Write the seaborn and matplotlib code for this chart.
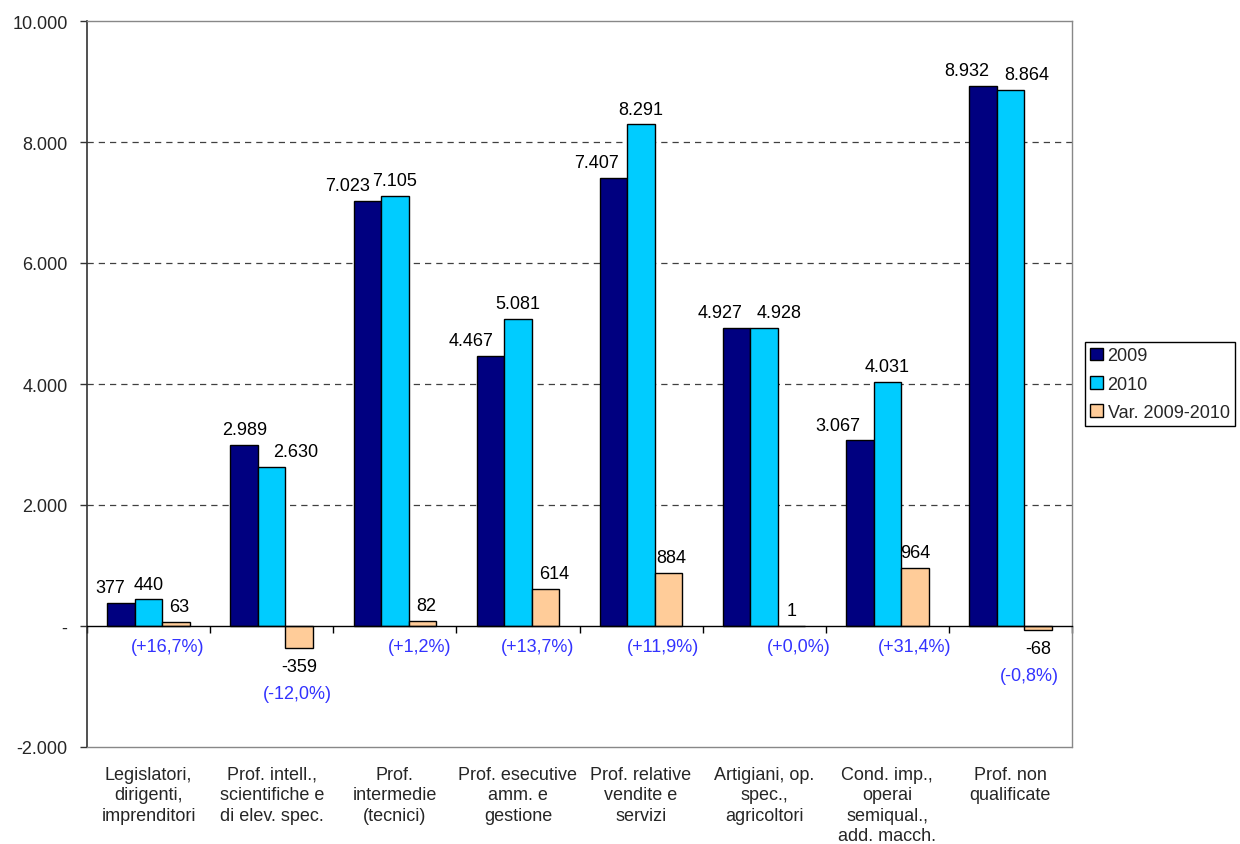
import matplotlib
matplotlib.use("Agg")
import matplotlib.pyplot as plt
import seaborn as sns
import pandas as pd
import numpy as np
from matplotlib.ticker import FuncFormatter
from matplotlib.patches import Patch
import matplotlib.transforms as mtransforms

# --- data -------------------------------------------------------------
categorie = [
    "Legislatori,\ndirigenti,\nimprenditori",
    "Prof. intell.,\nscientifiche e\ndi elev. spec.",
    "Prof.\nintermedie\n(tecnici)",
    "Prof. esecutive\namm. e\ngestione",
    "Prof. relative\nvendite e\nservizi",
    "Artigiani, op.\nspec.,\nagricoltori",
    "Cond. imp.,\noperai\nsemiqual.,\nadd. macch.",
    "Prof. non\nqualificate",
]
val_2009 = [377, 2989, 7023, 4467, 7407, 4927, 3067, 8932]
val_2010 = [440, 2630, 7105, 5081, 8291, 4928, 4031, 8864]
var_09_10 = [63, -359, 82, 614, 884, 1, 964, -68]
serie = ["2009", "2010", "Var. 2009-2010"]
y_ticks = [-2000, 0, 2000, 4000, 6000, 8000, 10000]

colori = ["#000080", "#00CCFF", "#FFCC99"]

# horizontal nudges (points) for the value labels, per series
nudge = [
    [-8, 0, -14, -14, -12, -12, -16, -12],
    [0, 17, 0, 0, 0, 11, 0, 12],
    [2, 0, 3, 6, 2, 0, 0, 0],
]
nudge_pct = [-6, -1, -2, -6, -4, 5, 0, -6]

df = pd.DataFrame({
    "categoria": np.tile(categorie, 3),
    "serie": np.repeat(serie, len(categorie)),
    "valore": val_2009 + val_2010 + var_09_10,
})

# --- style ------------------------------------------------------------
sns.set_style("white")
plt.rcParams["font.family"] = ["Liberation Sans", "DejaVu Sans"]
FS = 13


def fmt_num(v):
    if v == 0:
        return "-"
    return f"{v:,.0f}".replace(",", ".")


fig = plt.figure(figsize=(12.4, 8.45), dpi=100)
ax = fig.add_axes([87 / 1240, 97 / 845, 985 / 1240, 726 / 845])

sns.barplot(
    data=df, x="categoria", y="valore", hue="serie",
    order=categorie, hue_order=serie, palette=colori, saturation=1,
    width=0.67, edgecolor="black", linewidth=1.0,
    legend=False, ax=ax, zorder=2,
)

ax.set_xlim(-0.5, len(categorie) - 0.5)
ax.set_ylim(y_ticks[0], y_ticks[-1])
ax.set_yticks(y_ticks)
ax.yaxis.set_major_formatter(FuncFormatter(lambda v, p: fmt_num(v)))
ax.tick_params(axis="y", direction="out", length=5, width=1, color="#333333",
               labelsize=FS, pad=9, left=True)
ax.set_xlabel("")
ax.set_ylabel("")

# dashed gridlines inside the plot area
for t in y_ticks:
    if y_ticks[0] < t < y_ticks[-1] and t != 0:
        ax.axhline(t, color="#404040", lw=0.9, ls=(0, (5, 4)), zorder=0.5)

# category axis sitting at zero, ticks between groups
ax.spines["bottom"].set_position(("data", 0))
ax.spines["bottom"].set_color("black")
ax.spines["bottom"].set_linewidth(1.0)
ax.spines["bottom"].set_zorder(3)
ax.set_xticks(np.arange(-0.5, len(categorie), 1.0))
ax.set_xticklabels([""] * (len(categorie) + 1))
ax.tick_params(axis="x", direction="out", length=5, width=1, color="black", bottom=True)

ax.spines["left"].set_color("#333333")
ax.spines["left"].set_linewidth(1.2)
for s in ("top", "right"):
    ax.spines[s].set_color("#888888")
    ax.spines[s].set_linewidth(1.0)
ax.plot([0, 1], [0, 0], transform=ax.transAxes, color="#888888", lw=1.0,
        clip_on=False, zorder=3)

# category names under the plot area
trans = mtransforms.blended_transform_factory(ax.transData, ax.transAxes)
for i, c in enumerate(categorie):
    ax.annotate(c, xy=(i, 0), xycoords=trans, xytext=(0, -13.5),
                textcoords="offset points", ha="center", va="top",
                multialignment="center", fontsize=FS, linespacing=1.26)

# value labels
for j, cont in enumerate(ax.containers):
    for k, bar in enumerate(cont.patches):
        x = bar.get_x() + bar.get_width() / 2
        v = df.loc[(df["serie"] == serie[j]) & (df["categoria"] == categorie[k]), "valore"].iloc[0]
        if j < 2 and v == 0:
            continue
        dy = 11 if v >= 0 else -13.5
        ax.annotate(fmt_num(v), xy=(x, v), xytext=(nudge[j][k], dy),
                    textcoords="offset points", ha="center", va="center",
                    fontsize=FS, color="black", zorder=4)

# percentage change labels under the variation bars
for k, bar in enumerate(ax.containers[2].patches):
    x = bar.get_x() + bar.get_width() / 2
    d = var_09_10[k]
    pct = d / val_2009[k] * 100
    txt = "(" + f"{pct:+.1f}".replace(".", ",") + "%)"
    if d >= 0:
        ax.annotate(txt, xy=(x, 0), xytext=(nudge_pct[k], -14.5),
                    textcoords="offset points", ha="center", va="center",
                    fontsize=FS, color="#3333FF")
    else:
        ax.annotate(txt, xy=(x, d), xytext=(nudge_pct[k], -33),
                    textcoords="offset points", ha="center", va="center",
                    fontsize=FS, color="#3333FF")

# legend at the right of the plot area
handles = [Patch(facecolor=c, edgecolor="black", lw=1.0) for c in colori]
leg = fig.legend(handles, serie, loc="upper left",
                 bbox_to_anchor=(1085 / 1240, 1 - 343 / 845),
                 bbox_transform=fig.transFigure, frameon=True, fancybox=False,
                 edgecolor="black", framealpha=1, fontsize=FS,
                 handlelength=0.7, handleheight=0.7, handletextpad=0.25,
                 borderpad=0.3, labelspacing=0.62, borderaxespad=0)
leg.get_frame().set_linewidth(1.0)

fig.savefig("out.png", dpi=100)
